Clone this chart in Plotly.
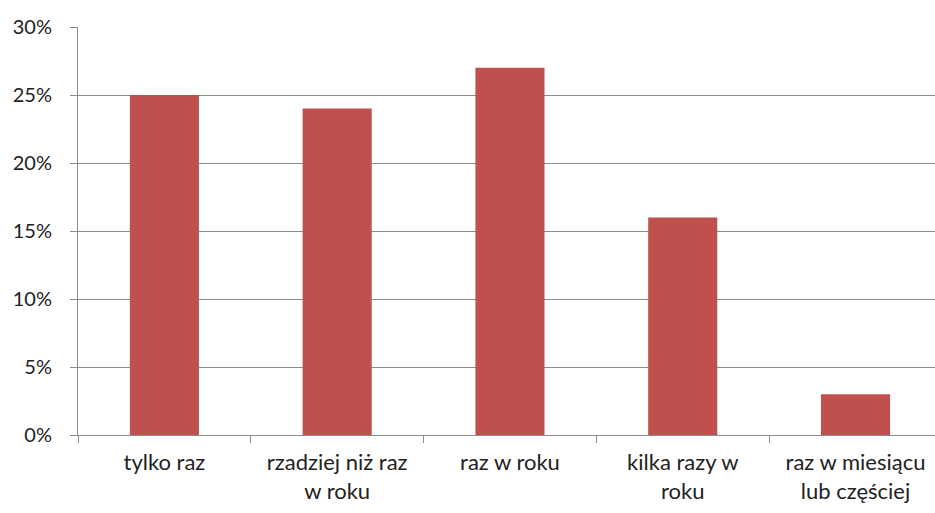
import plotly.graph_objects as go

categories = ["tylko raz", "rzadziej niż raz<br>w roku", "raz w roku", "kilka razy w<br>roku", "raz w miesiącu<br>lub częściej"]
values = [25, 24, 27, 16, 3]
y_ticks = [0, 5, 10, 15, 20, 25, 30]
y_tick_labels = ["0%", "5%", "10%", "15%", "20%", "25%", "30%"]

fig = go.Figure(go.Bar(x=categories, y=values, marker=dict(color="#C0504D", line=dict(width=0))))

fig.update_layout(
    width=935, height=513,
    margin=dict(l=78, r=0, t=27, b=78),
    paper_bgcolor="white", plot_bgcolor="white",
    bargap=0.6,
    showlegend=False,
    font=dict(family="Lato, Open Sans, sans-serif", size=20, color="#222222"),
)
fig.update_xaxes(
    range=[-0.5, 4.46],
    showline=True, linecolor="#8c8c8c", linewidth=1,
    ticks="outside", tickson="boundaries", ticklen=7, tickcolor="#8c8c8c",
    showgrid=False,
    ticklabelstandoff=8,
    tickfont=dict(size=22),
)
fig.update_yaxes(
    range=[0, 30],
    tickvals=y_ticks, ticktext=y_tick_labels,
    showline=True, linecolor="#8c8c8c", linewidth=1,
    ticks="outside", ticklen=7, tickcolor="#8c8c8c",
    showgrid=True, gridcolor="#8c8c8c", gridwidth=1,
    zeroline=False,
    ticklabelstandoff=14,
    tickfont=dict(size=20),
)

fig.write_html("out.html")
